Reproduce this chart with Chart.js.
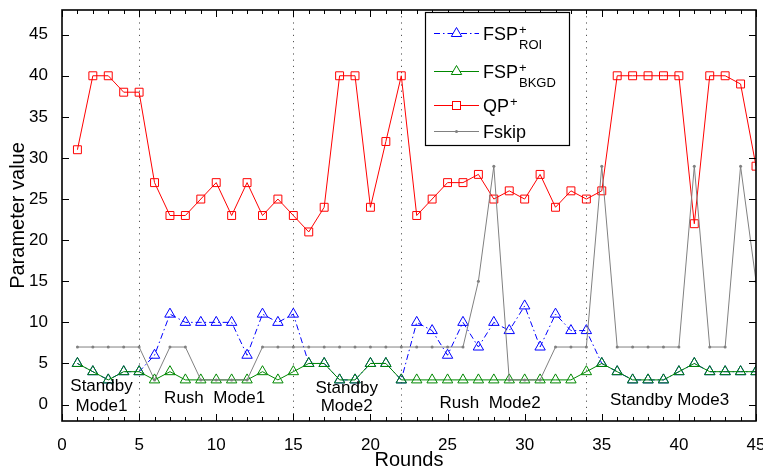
<!DOCTYPE html>
<html><head><meta charset="utf-8">
<script src="https://cdn.jsdelivr.net/npm/chart.js@4/dist/chart.umd.min.js"></script>
<style>html,body{margin:0;padding:0;background:#fff}#wrap{width:763px;height:470px}</style>
</head><body><div id="wrap"><canvas id="c" width="763" height="470"></canvas></div>
<script>
const rounds = [1,2,3,4,5,6,7,8,9,10,11,12,13,14,15,16,17,18,19,20,21,22,23,24,25,26,27,28,29,30,31,32,33,34,35,36,37,38,39,40,41,42,43,44,45];
const fspROI  = [5,4,3,4,4,6,11,10,10,10,10,6,11,10,11,5,5,3,3,5,5,3,10,9,6,10,7,10,9,12,7,11,9,9,5,4,3,3,3,4,5,4,4,4,4];
const fspBKGD = [5,4,3,4,4,3,4,3,3,3,3,3,4,3,4,5,5,3,3,5,5,3,3,3,3,3,3,3,3,3,3,3,3,4,5,4,3,3,3,4,5,4,4,4,4];
const qpPlus  = [31,40,40,38,38,27,23,23,25,27,23,27,23,25,23,21,24,40,40,24,32,40,23,25,27,27,28,25,26,25,28,24,26,25,26,40,40,40,40,40,22,40,40,39,29];
const fskip   = [7,7,7,7,7,3,7,7,3,3,3,3,7,7,7,7,7,7,7,7,7,7,7,7,7,7,15,29,3,3,3,7,7,7,29,7,7,7,7,7,29,7,7,29,15];
const xTickValues = [0,5,10,15,20,25,30,35,40,45];
const yTickValues = [0,5,10,15,20,25,30,35,40,45];
const modeBoundaries = [5,15,22,34];
const modeLabels = [
  {lines:['Standby','Mode1'], x:2.56, y:[2.17,-0.18]},
  {lines:['Rush  Mode1'], x:9.9, y:[0.75]},
  {lines:['Standby','Mode2'], x:18.46, y:[1.97,-0.18]},
  {lines:['Rush  Mode2'], x:27.76, y:[0.15]},
  {lines:['Standby Mode3'], x:39.4, y:[0.55]}
];
const FONT = "'Liberation Sans', Arial, Helvetica, sans-serif";
Chart.defaults.font.family = FONT;
Chart.defaults.color = '#000';

function pts(arr){ return arr.map((v,i)=>({x:rounds[i], y:v})); }

const COL_ROI = '#0000ff', COL_BK = '#008800', COL_QP = '#ff0000', COL_FS = '#808080';

const frame = {
  id:'frame',
  beforeDatasetsDraw(chart){
    const {ctx, chartArea:a, scales:{x,y}} = chart;
    ctx.save();
    ctx.strokeStyle = '#555'; ctx.lineWidth = 1; ctx.setLineDash([1.2,5]);
    modeBoundaries.forEach(v=>{
      const px = Math.round(x.getPixelForValue(v))+0.5;
      ctx.beginPath(); ctx.moveTo(px,a.top); ctx.lineTo(px,a.bottom); ctx.stroke();
    });
    ctx.restore();
  },
  afterDatasetsDraw(chart){
    const {ctx, chartArea:a, scales:{x,y}} = chart;
    ctx.save();
    ctx.fillStyle = '#000';
    ctx.font = '17px ' + FONT;
    ctx.textAlign = 'center'; ctx.textBaseline = 'middle';
    modeLabels.forEach(m=>{
      m.lines.forEach((t,i)=>ctx.fillText(t, x.getPixelForValue(m.x), y.getPixelForValue(m.y[i])));
    });
    ctx.restore();
  },
  afterDraw(chart){
    const {ctx, chartArea:a, scales:{x,y}} = chart;
    ctx.save();
    ctx.strokeStyle = '#000'; ctx.lineWidth = 1;
    for (let v=0; v<=45; v++){
      const px = Math.round(x.getPixelForValue(v))+0.5;
      const len = (v%5===0)?7:4;
      ctx.beginPath(); ctx.moveTo(px,a.bottom); ctx.lineTo(px,a.bottom-len);
      ctx.moveTo(px,a.top); ctx.lineTo(px,a.top+len); ctx.stroke();
    }
    yTickValues.forEach(v=>{
      const py = Math.round(y.getPixelForValue(v))+0.5;
      ctx.beginPath(); ctx.moveTo(a.left,py); ctx.lineTo(a.left+7,py);
      ctx.moveTo(a.right,py); ctx.lineTo(a.right-7,py); ctx.stroke();
    });
    ctx.lineWidth = 1.6;
    ctx.strokeRect(a.left, a.top, a.right-a.left, a.bottom-a.top);
    // legend
    const L = {x:425, y:12, w:144, h:133};
    ctx.fillStyle = '#fff'; ctx.fillRect(L.x, L.y, L.w, L.h);
    ctx.lineWidth = 1.2; ctx.strokeStyle = '#000';
    ctx.strokeRect(L.x+0.5, L.y+0.5, L.w, L.h);
    const rows = [
      {y:33, col:COL_ROI, dash:[6,3,1.5,3], mk:'tri', main:'FSP', sup:'+', sub:'ROI'},
      {y:71, col:COL_BK, dash:[], mk:'tri', main:'FSP', sup:'+', sub:'BKGD'},
      {y:105, col:COL_QP, dash:[], mk:'sq', main:'QP', sup:'+', sub:''},
      {y:131, col:COL_FS, dash:[], mk:'dot', main:'Fskip', sup:'', sub:''}
    ];
    rows.forEach(r=>{
      ctx.strokeStyle = r.col; ctx.lineWidth = 1; ctx.setLineDash(r.dash);
      ctx.beginPath(); ctx.moveTo(434, r.y+0.5); ctx.lineTo(479, r.y+0.5); ctx.stroke();
      ctx.setLineDash([]);
      const cx = 456.5, cy = r.y+0.5;
      if (r.mk==='tri'){
        const R=6; ctx.fillStyle='#fff';
        ctx.beginPath(); ctx.moveTo(cx, cy-R); ctx.lineTo(cx+R*0.866, cy+R/2); ctx.lineTo(cx-R*0.866, cy+R/2); ctx.closePath(); ctx.fill(); ctx.stroke();
      } else if (r.mk==='sq'){
        ctx.fillStyle='#fff'; ctx.fillRect(cx-4,cy-4,8,8); ctx.strokeRect(cx-4,cy-4,8,8);
      } else {
        ctx.fillStyle=r.col; ctx.beginPath(); ctx.arc(cx,cy,1.5,0,Math.PI*2); ctx.fill();
      }
      ctx.fillStyle = '#000'; ctx.textAlign='left'; ctx.textBaseline='alphabetic';
      ctx.font = '18px ' + FONT;
      ctx.fillText(r.main, 483, r.y+6.5);
      const w = ctx.measureText(r.main).width;
      ctx.font = '13px ' + FONT;
      if (r.sup) ctx.fillText(r.sup, 483+w+1, r.y+1);
      if (r.sub) ctx.fillText(r.sub, 483+w+1, r.y+16);
    });
    ctx.restore();
  }
};

new Chart(document.getElementById('c'), {
  type:'line',
  data:{datasets:[
    {label:'FSP+ROI', data:pts(fspROI), order:4, borderColor:COL_ROI, borderWidth:1, borderDash:[6,3,1.5,3],
     pointStyle:'triangle', pointRadius:6, pointBorderColor:COL_ROI, pointBackgroundColor:'rgba(0,0,0,0)', pointBorderWidth:1},
    {label:'FSP+BKGD', data:pts(fspBKGD), order:3, borderColor:COL_BK, borderWidth:1,
     pointStyle:'triangle', pointRadius:6, pointBorderColor:COL_BK, pointBackgroundColor:'rgba(0,0,0,0)', pointBorderWidth:1},
    {label:'QP+', data:pts(qpPlus), order:2, borderColor:COL_QP, borderWidth:1,
     pointStyle:'rect', pointRadius:5.6, pointBorderColor:COL_QP, pointBackgroundColor:'rgba(0,0,0,0)', pointBorderWidth:1},
    {label:'Fskip', data:pts(fskip), order:1, borderColor:COL_FS, borderWidth:1,
     pointStyle:'circle', pointRadius:1.5, pointBorderWidth:0, pointBackgroundColor:COL_FS, pointBorderColor:COL_FS}
  ]},
  options:{
    responsive:false, animation:false, devicePixelRatio:1,
    layout:{padding:{top:10,right:7,left:0,bottom:0}},
    plugins:{legend:{display:false}, tooltip:{enabled:false}},
    elements:{line:{tension:0}},
    scales:{
      x:{type:'linear', min:0, max:45,
        afterBuildTicks:s=>{s.ticks = xTickValues.map(v=>({value:v}));},
        afterFit:s=>{s.height = 49; s.paddingLeft = 0; s.paddingRight = 0;},
        grid:{display:false}, border:{display:false},
        ticks:{font:{size:17}, padding:6, maxRotation:0, autoSkip:false, color:'#000'},
        title:{display:true, text:'Rounds', font:{size:20, lineHeight:1}, padding:{top:0,bottom:0}, color:'#000'}},
      y:{type:'linear', min:-2, max:48,
        afterBuildTicks:s=>{s.ticks = yTickValues.map(v=>({value:v}));},
        afterFit:s=>{s.width = 62; s.paddingTop = 0; s.paddingBottom = 0;},
        grid:{display:false}, border:{display:false},
        ticks:{font:{size:17}, padding:6, autoSkip:false, color:'#000'},
        title:{display:true, text:'Parameter value', font:{size:20, lineHeight:1}, padding:{top:8,bottom:0}, color:'#000'}}
    }
  },
  plugins:[frame]
});
</script></body></html>
